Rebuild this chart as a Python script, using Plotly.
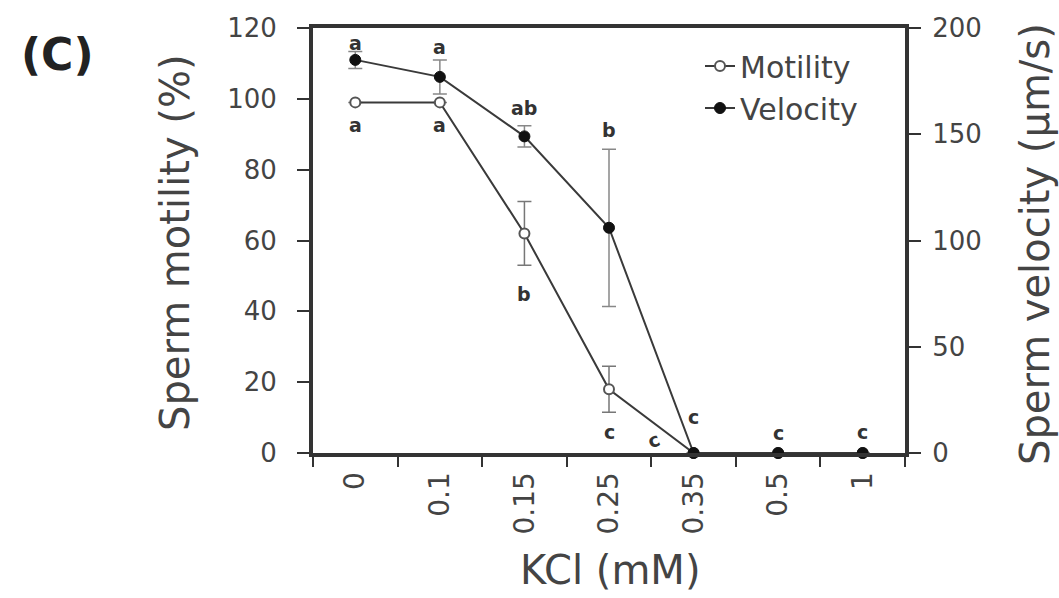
import plotly.graph_objects as go

# ---- data ----
categories = ["0", "0.1", "0.15", "0.25", "0.35", "0.5", "1"]
motility = [99, 99, 62, 18, 0, 0, 0]
motility_err = [0, 0, 9, 6.5, 0, 0, 0]
velocity = [185, 177, 149, 106, 0, 0, 0]
velocity_err = [4, 8, 5, 37, 0, 0, 0]

# significance letters: (category index, y on left axis, text, angle)
letter_x = [0, 0, 1, 1, 2, 2, 3, 3, 3.53, 4, 5, 6]
letter_y = [115.7, 92.6, 114.6, 92.6, 97.4, 44.9, 91.2, 5.9, 3.7, 10.2, 5.6, 5.9]
letter_text = ["a", "a", "a", "a", "ab", "b", "b", "c", "c", "c", "c", "c"]
letter_angle = [0, 0, 0, 0, 0, 0, 0, 0, -20, 0, 0, 0]

FONT = "DejaVu Sans"
TXT = "#444444"
AX = "#333333"

W, H = 1059, 598
L, R, T, B = 313, 905, 28, 453

fig = go.Figure()

fig.add_trace(go.Scatter(
    x=categories, y=motility, name="Motility", mode="lines+markers",
    line=dict(color="#3a3a3a", width=2),
    marker=dict(symbol="circle", size=10, color="white",
                line=dict(color="#555555", width=2)),
    error_y=dict(type="data", array=motility_err, visible=True,
                 color="#777777", thickness=1.5, width=7),
    cliponaxis=False, yaxis="y",
))
fig.add_trace(go.Scatter(
    x=categories, y=velocity, name="Velocity", mode="lines+markers",
    line=dict(color="#3a3a3a", width=2),
    marker=dict(symbol="circle", size=11, color="#111111",
                line=dict(color="#111111", width=1)),
    error_y=dict(type="data", array=velocity_err, visible=True,
                 color="#888888", thickness=1.5, width=7),
    cliponaxis=False, yaxis="y2",
))

annotations = []
for xi, yi, t, a in zip(letter_x, letter_y, letter_text, letter_angle):
    annotations.append(dict(
        x=xi, y=yi, xref="x", yref="y", text="<b>%s</b>" % t,
        showarrow=False, textangle=a,
        font=dict(family=FONT, size=19, color="#333333"),
        xanchor="center", yanchor="middle"))

def px(xp):
    return (xp - L) / (R - L)

def py(yp):
    return (B - yp) / (B - T)

annotations += [
    dict(x=px(57), y=py(55), xref="paper", yref="paper", text="<b>(C)</b>",
         showarrow=False, font=dict(family=FONT, size=44, color="#222222"),
         xanchor="center", yanchor="middle"),
    dict(x=px(610), y=py(570), xref="paper", yref="paper", text="KCl (mM)",
         showarrow=False, font=dict(family=FONT, size=40, color=TXT),
         xanchor="center", yanchor="middle"),
    dict(x=px(175), y=py(243), xref="paper", yref="paper",
         text="Sperm motility (%)", textangle=-90,
         showarrow=False, font=dict(family=FONT, size=40, color=TXT),
         xanchor="center", yanchor="middle"),
    dict(x=px(1035), y=py(244), xref="paper", yref="paper",
         text="Sperm velocity (µm/s)", textangle=-90,
         showarrow=False, font=dict(family=FONT, size=40, color=TXT),
         xanchor="center", yanchor="middle"),
]

fig.update_layout(
    width=W, height=H,
    margin=dict(l=L, r=W - R, t=T, b=H - B, pad=0),
    paper_bgcolor="white", plot_bgcolor="white",
    font=dict(family=FONT, color=TXT),
    showlegend=True,
    legend=dict(x=px(700), y=py(40), xanchor="left", yanchor="top",
                bgcolor="rgba(0,0,0,0)", font=dict(family=FONT, size=30, color=TXT),
                itemwidth=30, tracegroupgap=0),
    xaxis=dict(type="category", range=[-0.5, 6.5], tickson="boundaries",
               ticks="outside", ticklen=10, tickwidth=2, tickcolor=AX,
               showline=True, linewidth=4, linecolor=AX, mirror=True,
               tickangle=-90, tickfont=dict(family=FONT, size=28, color=TXT),
               ticklabelstandoff=4,
               showgrid=False, zeroline=False),
    yaxis=dict(range=[0, 120], dtick=20, ticks="outside", ticklen=12,
               tickwidth=2, tickcolor=AX, showline=True, linewidth=4,
               linecolor=AX, mirror=True,
               tickfont=dict(family=FONT, size=26, color=TXT),
               ticklabelstandoff=15,
               showgrid=False, zeroline=False),
    yaxis2=dict(range=[0, 200], dtick=50, overlaying="y", side="right",
                ticks="outside", ticklen=12, tickwidth=2, tickcolor=AX,
                showline=True, linewidth=4, linecolor=AX,
                tickfont=dict(family=FONT, size=26, color=TXT),
                ticklabelstandoff=6,
                showgrid=False, zeroline=False),
    annotations=annotations,
)

fig.write_html("out.html")
